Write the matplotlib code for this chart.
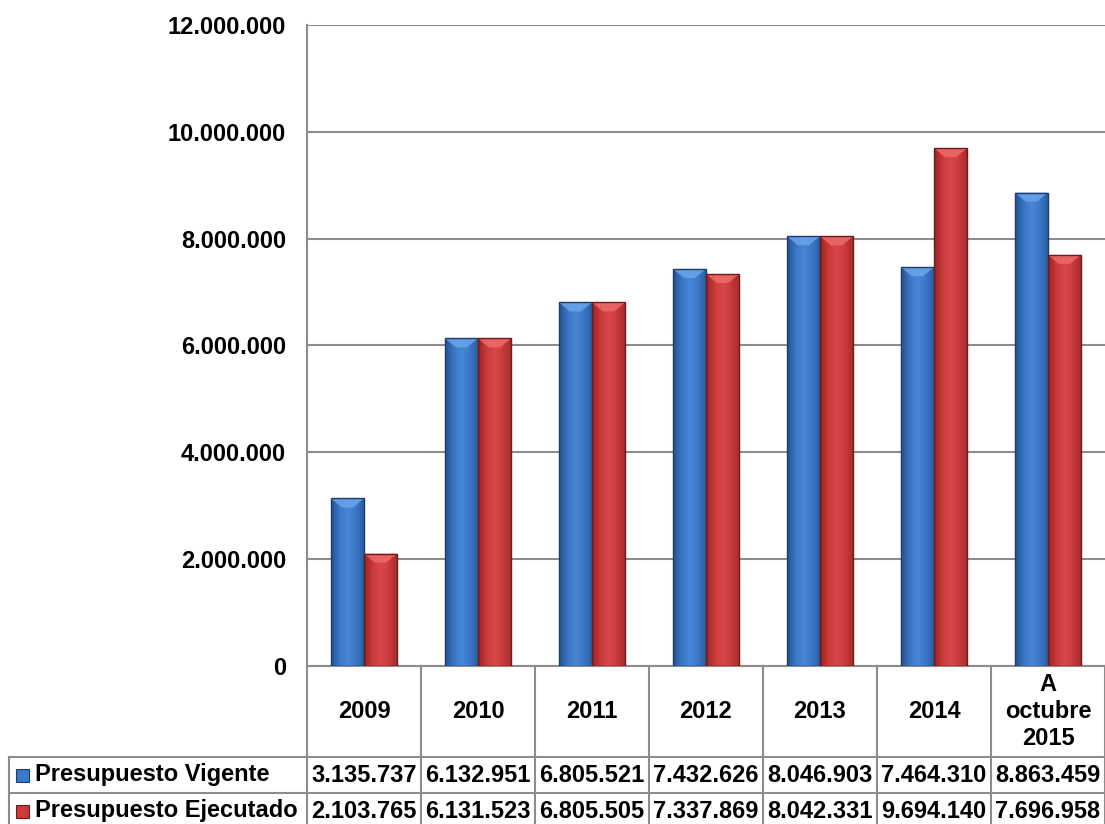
import matplotlib
matplotlib.use('Agg')
import matplotlib.pyplot as plt
import matplotlib.transforms as mtransforms
from matplotlib.patches import Rectangle, Polygon
from matplotlib.colors import LinearSegmentedColormap
import numpy as np

# ---------------- data ----------------
categories = ['2009', '2010', '2011', '2012', '2013', '2014', 'A\noctubre\n2015']
series_names = ['Presupuesto Vigente', 'Presupuesto Ejecutado']
vigente = [3135737, 6132951, 6805521, 7432626, 8046903, 7464310, 8863459]
ejecutado = [2103765, 6131523, 6805505, 7337869, 8042331, 9694140, 7696958]
yticks = [0, 2000000, 4000000, 6000000, 8000000, 10000000, 12000000]


def fmt(v):
    return f"{v:,}".replace(',', '.')


# ---------------- style ----------------
plt.rcParams['font.family'] = ['Liberation Sans', 'DejaVu Sans']
FS = 17
GRID = '#8c8c8c'
colors = ['#3b78c8', '#cc3a3a']
edges = ['#1d3c66', '#6a1b1b']
grads = [['#24508e', '#3a76c6', '#4a86d6', '#3a76c6', '#2a5c9e'],
         ['#9a2424', '#c93a3a', '#d84848', '#c93a3a', '#a42a2a']]
tops = ['#6aa4ea', '#ee6a6a']

W, H = 1105, 824
fig = plt.figure(figsize=(W / 100, H / 100), dpi=100)
ax_l, ax_r, ax_t, ax_b = 307, 1105, 25, 666
ax = fig.add_axes([ax_l / W, 1 - ax_b / H, (ax_r - ax_l) / W, (ax_b - ax_t) / H])

n = len(categories)
x = np.arange(n)
bw = 0.29
ah = ax_b - ax_t
px_per_unit = (ax_r - ax_l) / n
ymax = yticks[-1]

for k, (vals, off) in enumerate([(vigente, -bw / 2), (ejecutado, bw / 2)]):
    bars = ax.bar(x + off, vals, bw, facecolor='none', edgecolor=edges[k],
                  linewidth=1.0, zorder=4)
    cmap = LinearSegmentedColormap.from_list(f'g{k}', grads[k])
    grad = np.linspace(0, 1, 64).reshape(1, -1)
    for b in bars:
        x0, y0 = b.get_xy()
        w, h = b.get_width(), b.get_height()
        im = ax.imshow(grad, extent=[x0, x0 + w, y0, y0 + h], aspect='auto',
                       cmap=cmap, zorder=3, interpolation='bilinear')
        im.set_clip_path(b)
        # top bevel
        th = 9 / ah * ymax
        ins = 11 / px_per_unit
        ax.add_patch(Polygon([[x0, y0 + h], [x0 + w, y0 + h],
                              [x0 + w - ins, y0 + h - th], [x0 + ins, y0 + h - th]],
                             closed=True, facecolor=tops[k], edgecolor='none',
                             alpha=0.85, zorder=3.5))

ax.set_xlim(-0.5, n - 0.5)
ax.set_ylim(yticks[0], yticks[-1])
ax.set_yticks(yticks)
ax.set_yticklabels([fmt(v) for v in yticks], fontsize=FS, fontweight='bold')
ax.tick_params(axis='y', length=0, pad=15)
ax.set_xticks([])
ax.yaxis.grid(True, color=GRID, linewidth=1.5, zorder=0)
for s in ['top', 'right']:
    ax.spines[s].set_visible(False)
for s in ['left', 'bottom']:
    ax.spines[s].set_color(GRID)
    ax.spines[s].set_linewidth(1.5)

# ---------------- data table ----------------
trans = mtransforms.blended_transform_factory(ax.transData, ax.transAxes)
y_head = -(757 - ax_b) / ah
y_r1 = -(793 - ax_b) / ah
y_r2 = -(829 - ax_b) / ah
x_tab_left = -0.5 - (ax_l - 9) / px_per_unit
lk = dict(color=GRID, linewidth=1.5, transform=trans, clip_on=False)

for b in np.arange(n + 1) - 0.5:
    ax.plot([b, b], [0, y_r2], **lk)
ax.plot([x_tab_left, x_tab_left], [y_head, y_r2], **lk)
for yy in [y_head, y_r1, y_r2]:
    ax.plot([x_tab_left, n - 0.5], [yy, yy], **lk)

for i, c in enumerate(categories):
    ax.text(i, (0 + y_head) / 2, c, transform=trans, ha='center', va='center',
            fontsize=FS, fontweight='bold', linespacing=1.2, clip_on=False)

rows = [vigente, ejecutado]
row_y = [(y_head + y_r1) / 2, (y_r1 + y_r2) / 2]
for r, (vals, yy) in enumerate(zip(rows, row_y)):
    for i, v in enumerate(vals):
        ax.text(i, yy, fmt(v), transform=trans, ha='center', va='center',
                fontsize=FS, fontweight='bold', clip_on=False)
    ax.text(x_tab_left + 26 / px_per_unit, yy, series_names[r], transform=trans,
            ha='left', va='center', fontsize=FS, fontweight='bold', clip_on=False)
    kh = 13 / ah
    ax.add_patch(Rectangle((x_tab_left + 7 / px_per_unit, yy - kh / 2), 13 / px_per_unit, kh,
                           transform=trans, facecolor=colors[r], edgecolor=edges[r],
                           linewidth=0.8, clip_on=False))

fig.savefig('out.png', dpi=100)
